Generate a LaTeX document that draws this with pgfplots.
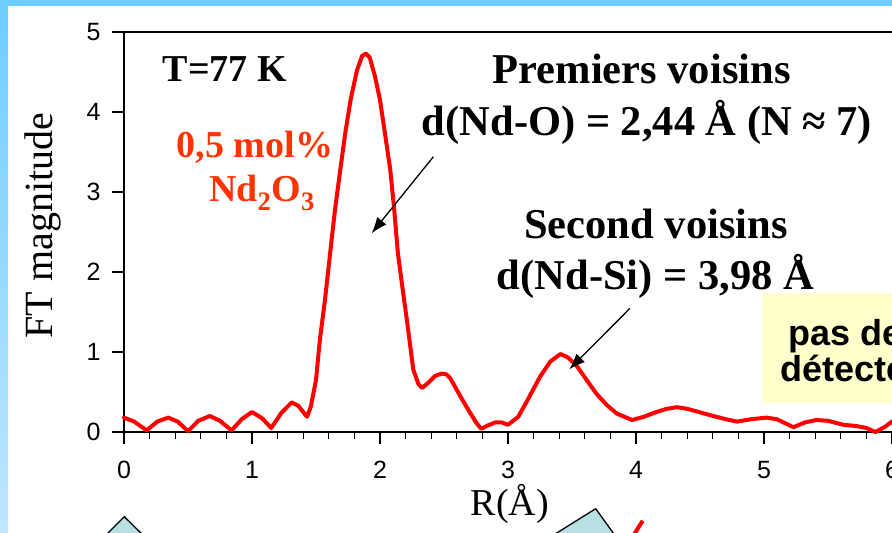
\documentclass[border=0pt]{standalone}
\usepackage{pgfplots}
\pgfplotsset{compat=1.18}
\usepackage{fontspec}
\setmainfont{Liberation Serif}
\newfontfamily\arialfont{Liberation Sans}
\usetikzlibrary{arrows.meta}
\definecolor{curvered}{RGB}{255,0,0}
\definecolor{labelred}{RGB}{255,51,0}
\definecolor{boxyellow}{RGB}{255,255,204}
\definecolor{shapeblue}{RGB}{184,223,225}
\definecolor{bordertop}{RGB}{110,205,255}
\definecolor{borderbot}{RGB}{192,230,255}
\newcommand\annot{\fontsize{38}{40}\selectfont\bfseries}
\newcommand\annotb{\fontsize{42.5}{44}\selectfont\bfseries}
\begin{document}
\begin{tikzpicture}[x=1pt,y=1pt]
\path[use as bounding box] (0,0) rectangle (892,533);
\clip (0,0) rectangle (892,533);
\fill[white] (0,0) rectangle (892,533);
\fill[bordertop] (0,527) rectangle (892,533);
\shade[top color=bordertop, bottom color=borderbot] (0,0) rectangle (8,533);
\begin{axis}[
  at={(124pt,101pt)}, anchor=origin,
  x=128pt, y=80pt,
  xmin=0, xmax=6.6, ymin=0, ymax=5,
  axis line style={line width=1.4pt, black},
  xtick={0,...,6}, ytick={0,...,5},
  minor x tick num=4,
  xtick pos=left, ytick pos=left,
  tick align=outside,
  major tick length=12pt, minor tick length=7pt,
  every tick/.style={black, line width=1.3pt},
  ticklabel style={font=\arialfont\fontsize{25}{25}\selectfont},
  xticklabel style={yshift=-14pt},
  yticklabel style={xshift=-8pt},
  /pgf/number format/assume math mode=true,
  xlabel={R(Å)}, ylabel={FT magnitude},
  xlabel style={at={(axis description cs:0.4569,-0.2075)}, anchor=base, font=\fontsize{38}{40}\selectfont, inner sep=0pt},
  ylabel style={at={(axis description cs:-0.0852,0.5163)}, anchor=base, font=\fontsize{40}{42}\selectfont, inner sep=0pt},
  clip=false,
]
\addplot[curvered, line width=4pt, line join=round, line cap=round] coordinates {
(0.00,0.18) (0.08,0.13) (0.177,0.02) (0.26,0.13) (0.346,0.18) (0.42,0.13) (0.50,0.01)
(0.58,0.14) (0.67,0.20) (0.75,0.14) (0.84,0.02) (0.92,0.16) (1.00,0.25) (1.08,0.17)
(1.15,0.05) (1.23,0.24) (1.31,0.37) (1.36,0.33) (1.43,0.19) (1.46,0.32) (1.50,0.65)
(1.53,1.15) (1.57,1.65) (1.61,2.23) (1.65,2.80) (1.69,3.28) (1.73,3.75) (1.77,4.15)
(1.82,4.52) (1.86,4.70) (1.89,4.73) (1.92,4.68) (1.96,4.45) (2.00,4.15) (2.04,3.72)
(2.08,3.28) (2.11,2.80) (2.14,2.23) (2.18,1.75) (2.21,1.40) (2.26,0.78) (2.30,0.60)
(2.33,0.55) (2.38,0.62) (2.43,0.70) (2.48,0.73) (2.52,0.72) (2.55,0.67) (2.63,0.44)
(2.70,0.25) (2.755,0.11) (2.79,0.04) (2.84,0.08) (2.90,0.12) (2.95,0.12) (3.00,0.09)
(3.08,0.19) (3.16,0.42) (3.25,0.69) (3.33,0.88) (3.41,0.975) (3.47,0.93) (3.54,0.82)
(3.61,0.66) (3.69,0.48) (3.77,0.34) (3.85,0.23) (3.97,0.15) (4.06,0.19) (4.16,0.25)
(4.24,0.29) (4.32,0.31) (4.40,0.29) (4.58,0.21) (4.70,0.16) (4.79,0.13) (4.90,0.16)
(5.02,0.18) (5.10,0.16) (5.23,0.06) (5.32,0.12) (5.41,0.15) (5.50,0.14) (5.62,0.09)
(5.72,0.075) (5.80,0.05) (5.87,0.00) (5.94,0.06) (6.00,0.13) (6.10,0.20)
};
\node[anchor=base, font=\annot, inner sep=0pt] at (axis cs:0.789,4.375) {T=77 K};
\node[anchor=base, font=\annot, text=labelred, inner sep=0pt] at (axis cs:1.023,3.434) {0,5 mol\%};
\node[anchor=base, font=\annot, text=labelred, inner sep=0pt] at (axis cs:1.078,2.879) {Nd\textsubscript{2}O\textsubscript{3}};
\node[anchor=base, font=\annotb, inner sep=0pt] at (axis cs:4.044,4.359) {Premiers voisins};
\node[anchor=base, font=\annotb, inner sep=0pt] at (axis cs:4.086,3.700) {d(Nd-O) = 2,44 Å (N ≈ 7)};
\node[anchor=base, font=\annotb, inner sep=0pt] at (axis cs:4.156,2.421) {Second voisins};
\node[anchor=base, font=\annotb, inner sep=0pt] at (axis cs:4.152,1.775) {d(Nd-Si) = 3,98 Å};
\draw[black, line width=1.3pt, -{Latex[length=16pt,width=12pt]}] (axis cs:2.417,3.441) -- (axis cs:1.935,2.484);
\draw[black, line width=1.3pt, -{Latex[length=16pt,width=12pt]}] (axis cs:3.953,1.546) -- (axis cs:3.479,0.784);
\end{axis}
\fill[boxyellow] (761.7,130.3) rectangle (900,239.7);
\node[anchor=base west, inner sep=0pt, font=\arialfont\bfseries\fontsize{36}{38}\selectfont] at (788,187) {pas de Nd-Nd};
\node[anchor=base west, inner sep=0pt, font=\arialfont\bfseries\fontsize{36}{38}\selectfont] at (780,151.3) {détectés};
\filldraw[fill=shapeblue, draw=black, line width=1.3pt] (100,-8) -- (124.3,16.3) -- (149,-8) -- cycle;
\filldraw[fill=shapeblue, draw=black, line width=1.3pt] (543.9,-8) -- (595.7,24.3) -- (619,-8) -- cycle;
\draw[curvered, line width=4pt] (642.7,12.3) -- (630,-8);
\end{tikzpicture}
\end{document}
